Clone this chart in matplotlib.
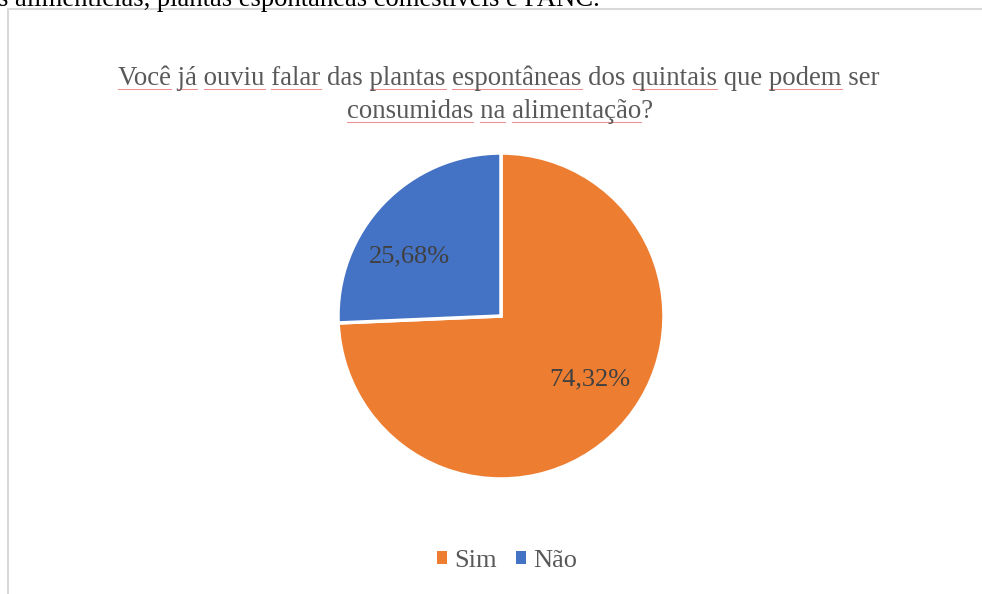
import matplotlib.pyplot as plt
import numpy as np
from matplotlib.patches import Rectangle, Patch

# dados do grafico
categorias = ['Sim', 'Não']
valores = [74.32, 25.68]
rotulos = ['74,32%', '25,68%']
cores = ['#ED7D31', '#4472C4']

titulo1 = 'Você já ouviu falar das plantas espontâneas dos quintais que podem ser'
titulo2 = 'consumidas na alimentação?'
sublinhadas1 = ['Você', 'já', 'ouviu', 'falar', 'plantas', 'espontâneas', 'quintais', 'podem']
sublinhadas2 = ['consumidas', 'na', 'alimentação']
texto_topo = 's alimentícias, plantas espontâneas comestíveis e PANC.'

plt.rcParams['font.family'] = ['Liberation Serif', 'DejaVu Serif']

W, H = 982, 594
fig = plt.figure(figsize=(W / 100, H / 100), dpi=100)
fig.patch.set_facecolor('white')

# moldura do grafico (sai da imagem a direita e embaixo)
fig.patches.append(Rectangle((7.5 / W, -0.1), 1.2, 1 - 9.5 / H + 0.1, transform=fig.transFigure,
                             facecolor='white', edgecolor='#D9D9D9', lw=1.5, zorder=-5))

# texto do documento cortado no topo
fig.text(-2 / W, 1 - 6 / H, texto_topo, fontsize=19.2, color='black', va='baseline', ha='left')

# pizza
cx, cy, r = 501, 316, 163
ax = fig.add_axes([(cx - r) / W, (H - cy - r) / H, 2 * r / W, 2 * r / H])
ax.set_zorder(2)
fatias, _ = ax.pie(valores, colors=cores, startangle=90, counterclock=False, radius=1,
                   wedgeprops=dict(edgecolor='white', linewidth=2.5))
ax.set_xlim(-1, 1)
ax.set_ylim(-1, 1)
ax.axis('off')

# rotulos de porcentagem
ang = 90.0
for v, txt, desl in zip(valores, rotulos, [8, 11]):
    meio = ang - v * 3.6 / 2 + desl
    ang -= v * 3.6
    t = np.deg2rad(meio)
    ax.text(0.67 * np.cos(t), 0.67 * np.sin(t), txt, ha='center', va='center',
            fontsize=19, color='#404040')

# titulo
cor_tit = '#595959'
l1 = fig.text(499 / W, 1 - 78 / H, titulo1, ha='center', va='center', fontsize=19.3, color=cor_tit)
l2 = fig.text(500 / W, 1 - 111 / H, titulo2, ha='center', va='center', fontsize=19.3, color=cor_tit)

# sublinhado vermelho do corretor
fig.canvas.draw()
rend = fig.canvas.get_renderer()
for obj, linha, palavras in [(l1, titulo1, sublinhadas1), (l2, titulo2, sublinhadas2)]:
    bb = obj.get_window_extent(rend)
    prop = obj.get_fontproperties()
    _, _, desc = rend.get_text_width_height_descent('Ag', prop, ismath=False)
    base = round(bb.y0 + desc) - 3.5
    pos = 0
    for p in palavras:
        i = linha.index(p, pos)
        pos = i + len(p)
        x0 = bb.x0 + (rend.get_text_width_height_descent(linha[:i], prop, ismath=False)[0] if i else 0)
        x1 = bb.x0 + rend.get_text_width_height_descent(linha[:pos], prop, ismath=False)[0]
        xs = np.linspace(x0, x1, 20)
        ys = np.full_like(xs, base)
        fig.add_artist(plt.Line2D(xs / W, ys / H, color='#EE9090', lw=0.75, transform=fig.transFigure))

# legenda
alcas = [Patch(facecolor=c, edgecolor='none') for c in cores]
fig.legend(alcas, categorias, loc='center', bbox_to_anchor=(507 / W, 1 - 561 / H), ncol=2,
           frameon=False, fontsize=19, labelcolor='#595959', handlelength=0.38, handleheight=0.38,
           handletextpad=0.3, columnspacing=0.7)

fig.savefig('out.png', dpi=100)
